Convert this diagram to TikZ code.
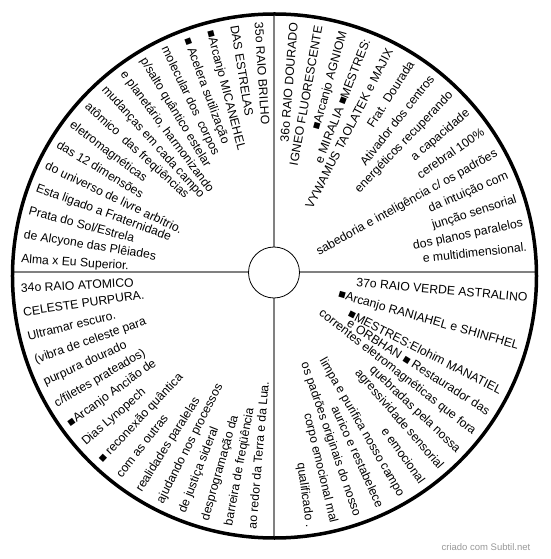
\documentclass[tikz,border=0pt]{standalone}
\usepackage{fontspec}
\setmainfont{Liberation Sans}
\begin{document}
\begin{tikzpicture}[x=1pt,y=1pt,
  txt/.style={font=\fontsize{12.2}{14}\selectfont, inner sep=0pt, text=black, text height=9pt, text depth=2pt},
  divider/.style={draw=black!50, line width=2pt},
  rimline/.style={draw=black, line width=3.5pt},
  credit/.style={font=\fontsize{9.5}{11}\selectfont, text=black!40, inner sep=0pt}]
\useasboundingbox (-274.5,-283) rectangle (275.5,276);
\fill[white] (-274.5,-283) rectangle (275.5,276);
\coordinate (O) at (0,0);
\coordinate (X) at (-0.5,3.5);
\coordinate (T) at (-0.5,262);
\coordinate (B) at (-0.5,-262);
\coordinate (L) at (-262,3.5);
\coordinate (R) at (262,3.5);
\draw[divider] (T) -- (B);
\draw[divider] (L) -- (R);
\node[circle, draw=black, fill=white, minimum size=51pt, inner sep=0pt, line width=0.8pt] (hub) at (X) {};
\node[circle, rimline, minimum size=524pt, inner sep=0pt, outer sep=0pt] (rim) at (O) {};
% 35o : top-left, reading inward
\foreach \t [count=\i] in {{35o RAIO BRILHO},{DAS ESTRELAS},{■Arcanjo MICANEHEL},{■ Acelera sutilização},{molecular dos \ corpos},{p/salto quântico estelar},{e planetário, harmonizando},{mudanças em cada campo},{atômico \ das freqüências},{eletromagnéticas},{das 12 dimensões},{do universo de livre arbítrio.},{Esta ligado a Fraternidade},{Prata do Sol/Estrela},{de Alcyone das Plêiades},{Alma x Eu Superior.}}{
  \pgfmathsetmacro\b{93.7+(\i-1)*5.5}
  \pgfmathsetmacro\r{\b-180}
  \node[txt, anchor=west, rotate=\r] (tl\i) at (\b:254) {\t};
}
% 34o : bottom-left, reading inward
\foreach \t [count=\i] in {{34o RAIO ATOMICO},{CELESTE PURPURA.},{Ultramar escuro.},{(vibra de celeste para},{purpura dourado},{c/filetes prateados)},{■Arcanjo Ancião de},{Dias Lynopech},{■ reconexão quântica},{com as outras},{realidades paralelas},{ajudando nos processos},{de justiça sideral},{desprogramação da},{barreira de freqüência},{ao redor da Terra e da Lua.}}{
  \pgfmathsetmacro\b{182.9+(\i-1)*5.48}
  \pgfmathsetmacro\r{\b-180}
  \node[txt, anchor=west, rotate=\r] (bl\i) at (\b:254) {\t};
}
% 36o : top-right, reading outward
\foreach \t [count=\i] in {{36o RAIO DOURADO},{IGNEO FLUORESCENTE},{■Arcanjo AGNIOM},{e MIRALIA ■MESTRES:},{VYWAMUS TAOLATEK e MAJIX},{Frat. Dourada},{Ativador dos centros},{energéticos recuperando},{a capacidade},{cerebral 100\%},{sabedoria e inteligência c/ os padrões},{da intuição com},{junção sensorial},{dos planos paralelos},{e multidimensional.}}{
  \pgfmathsetmacro\b{85.5-(\i-1)*5.65}
  \node[txt, anchor=east, rotate=\b] (tr\i) at (\b:254) {\t};
}
% 37o : bottom-right, reading outward
\foreach \b/\t [count=\i] in {-5/{37o RAIO VERDE ASTRALINO},-16/{■Arcanjo RANIAHEL e SHINFHEL},-27/{■MESTRES:Elohim MANATIEL},-32.5/{e ORBHAN ■ Restaurador das},-38/{correntes eletromagnéticas que fora},-43.5/{quebradas pela nossa},-49/{agressividade sensorial},-54.5/{e emocional},-60/{limpa e purifica nosso campo},-65.5/{aurico e restabelece},-71/{os padrões originais do nosso},-76.5/{corpo emocional mal},-82/{qualificado .}}{
  \node[txt, anchor=east, rotate=\b] (br\i) at (\b:254) {\t};
}
\node[credit, anchor=east] (credit) at (256,-271) {criado com Subtil.net};
\end{tikzpicture}
\end{document}
